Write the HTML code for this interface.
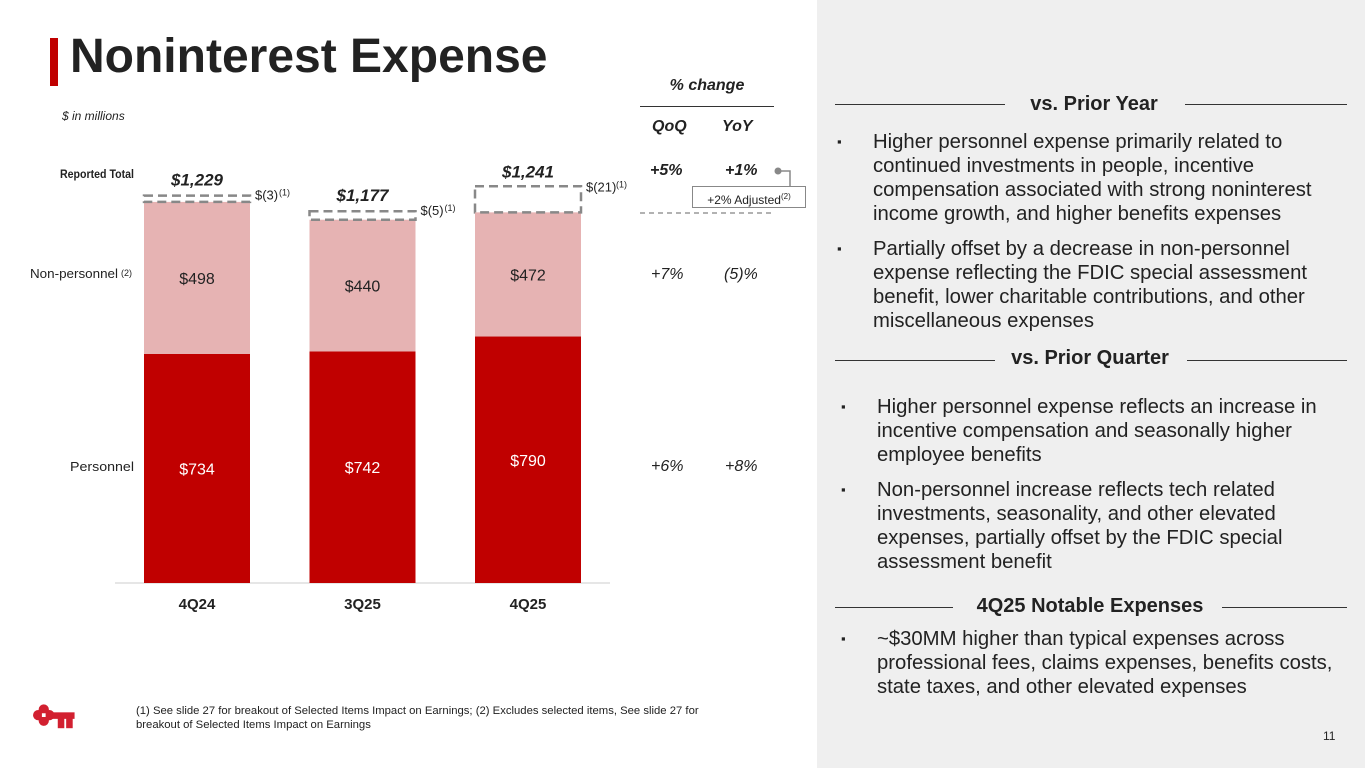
<!DOCTYPE html>
<html><head><meta charset="utf-8"><style>
body{margin:0;width:1365px;height:768px;position:relative;overflow:hidden;background:#fff;font-family:"Liberation Sans",Arial,sans-serif;color:#222}
.a{position:absolute;white-space:nowrap}
.side{position:absolute;left:817px;top:0;width:548px;height:768px;background:#efefef}
.hd{position:absolute;font-weight:bold;font-size:20px;color:#222;text-align:center}
.ln{position:absolute;height:1px;background:#333}
.bul{position:absolute;font-size:20.3px;line-height:24px;color:#222}
.bul span.m{position:absolute;left:-36px;font-size:13px}
</style></head><body>
<div class="side"></div>
<div class="a" style="left:50px;top:38px;width:8px;height:48px;background:#c00000"></div>
<div class="a" style="left:70px;top:29px;font-size:48px;font-weight:bold;color:#222">Noninterest Expense</div>
<div class="a" style="left:62px;top:109px;font-size:12px;font-style:italic">$ in millions</div>

<svg id="chart" class="a" style="left:0;top:0" width="817" height="700"></svg>

<div class="hd" style="left:640px;top:77px;width:134px;font-size:16px;font-style:italic">% change</div>
<div class="ln" style="left:640px;top:106px;width:134px"></div>
<div class="a" style="left:652px;top:118px;font-size:16px;font-weight:bold;font-style:italic">QoQ</div>
<div class="a" style="left:722px;top:118px;font-size:16px;font-weight:bold;font-style:italic">YoY</div>
<div class="a" style="left:650px;top:162px;font-size:16px;font-weight:bold;font-style:italic">+5%</div>
<div class="a" style="left:725px;top:162px;font-size:16px;font-weight:bold;font-style:italic">+1%</div>
<div class="a" style="left:651px;top:266px;font-size:16px;font-style:italic">+7%</div>
<div class="a" style="left:724px;top:266px;font-size:16px;font-style:italic">(5)%</div>
<div class="a" style="left:651px;top:458px;font-size:16px;font-style:italic">+6%</div>
<div class="a" style="left:725px;top:458px;font-size:16px;font-style:italic">+8%</div>
<div class="a" style="left:692px;top:186px;width:112px;height:20px;border:1px solid #888;background:#fff;font-size:12px;line-height:20px;text-align:center">+2% Adjusted<sup style="font-size:8px">(2)</sup></div>

<div class="ln" style="left:835px;top:104px;width:170px"></div>
<div class="hd" style="left:1005px;top:93px;width:178px">vs. Prior Year</div>
<div class="ln" style="left:1185px;top:104px;width:162px"></div>
<div class="bul" style="left:873px;top:130px"><span class="m">▪</span>Higher personnel expense primarily related to<br>continued investments in people, incentive<br>compensation associated with strong noninterest<br>income growth, and higher benefits expenses</div>
<div class="bul" style="left:873px;top:237px"><span class="m">▪</span>Partially offset by a decrease in non-personnel<br>expense reflecting the FDIC special assessment<br>benefit, lower charitable contributions, and other<br>miscellaneous expenses</div>

<div class="ln" style="left:835px;top:360px;width:160px"></div>
<div class="hd" style="left:995px;top:347px;width:190px">vs. Prior Quarter</div>
<div class="ln" style="left:1187px;top:360px;width:160px"></div>
<div class="bul" style="left:877px;top:395px"><span class="m">▪</span>Higher personnel expense reflects an increase in<br>incentive compensation and seasonally higher<br>employee benefits</div>
<div class="bul" style="left:877px;top:478px"><span class="m">▪</span>Non-personnel increase reflects tech related<br>investments, seasonality, and other elevated<br>expenses, partially offset by the FDIC special<br>assessment benefit</div>

<div class="ln" style="left:835px;top:607px;width:118px"></div>
<div class="hd" style="left:955px;top:595px;width:270px">4Q25 Notable Expenses</div>
<div class="ln" style="left:1222px;top:607px;width:125px"></div>
<div class="bul" style="left:877px;top:627px"><span class="m">▪</span>~$30MM higher than typical expenses across<br>professional fees, claims expenses, benefits costs,<br>state taxes, and other elevated expenses</div>
<div class="a" style="left:1323px;top:729px;font-size:12px">11</div>

<svg class="a" style="left:31px;top:703px" width="47" height="28" viewBox="0 0 45 30">
<g fill="#d22030"><circle cx="11" cy="7" r="5.5"/><circle cx="11" cy="19" r="5.5"/><circle cx="5" cy="13" r="5.5"/><circle cx="17" cy="13" r="5.5"/><rect x="14" y="10" width="30" height="7"/><rect x="26" y="15" width="7" height="12"/><rect x="35" y="15" width="7" height="12"/></g><rect x="9" y="11" width="4" height="4" fill="#fff"/></svg>
<div class="a" style="left:136px;top:704px;font-size:11.3px;line-height:14px">(1) See slide 27 for breakout of Selected Items Impact on Earnings; (2) Excludes selected items, See slide 27 for<br>breakout of Selected Items Impact on Earnings</div>

<script>
const categories=["4Q24","3Q25","4Q25"];
const personnel=[734,742,790];
const nonPersonnel=[498,440,472];
const selectedItems=[3,5,21];
const reportedTotals=["$1,229","$1,177","$1,241"];
const NS="http://www.w3.org/2000/svg";
const svg=document.getElementById('chart');
const base=583,scale=0.312,bw=106,x0=144,step=165.5;
const y=v=>base-v*scale;
const xc=i=>x0+i*step;
function mk(t,a,txt){const e=document.createElementNS(NS,t);for(const k in a)e.setAttribute(k,a[k]);if(txt!=null)e.textContent=txt;svg.appendChild(e);return e;}
let e=mk('line',{x1:115,x2:610,y1:base,y2:base,stroke:'#ccc'});


[["Reported Total",178,true,134,74,12],["Non-personnel",278,false,118,88,13],["Personnel",471,false,134,64,13]].forEach((r,k)=>{
 e=mk('text',{x:r[3]-r[4],y:r[1],textLength:r[4],lengthAdjust:'spacingAndGlyphs','font-size':r[5],'font-weight':r[2]?'bold':'normal',fill:'#222'},r[0]);
 
 
});
e=mk('text',{x:121,y:276,'font-size':9,fill:'#222'},'(2)');


categories.forEach((c,i)=>{
 const x=xc(i),pt=y(personnel[i]),st=y(personnel[i]+nonPersonnel[i]);
 const bh=selectedItems[i]*1.1,bb=st+bh;
 e=mk('rect',{x:x,y:pt,width:bw,height:base-pt,fill:'#c00000'});
 
 
 e=mk('rect',{x:x,y:bb,width:bw,height:pt-bb,fill:'#e6b3b3'});
 
 
 e=mk('rect',{x:x,y:st-3,width:bw,height:bh+3,fill:'none',stroke:'#888','stroke-width':2.5,'stroke-dasharray':'9,5'});
 
 
 e=mk('text',{x:x+bw/2,y:(pt+base)/2+6,'text-anchor':'middle','font-size':16,fill:'#fff'},'$'+personnel[i]);
 
 
 e=mk('text',{x:x+bw/2,y:(pt+bb)/2+6,'text-anchor':'middle','font-size':16,fill:'#222'},'$'+nonPersonnel[i]);
 
 
 e=mk('text',{x:x+bw+5,y:st+(i==2?2:1),'font-size':13,fill:'#222'},'$('+selectedItems[i]+')');
 
 
 const w=selectedItems[i]>9?30:24;
 e=mk('text',{x:x+bw+5+w,y:st-4+(i==2?2:1),'font-size':9,fill:'#222'},'(1)');
 
 
 e=mk('text',{x:x+bw/2,y:i==2?y(personnel[i]+nonPersonnel[i])-12:st-13,'text-anchor':'middle','font-size':17,'font-weight':'bold','font-style':'italic',fill:'#222'},reportedTotals[i]);
 
 
 e=mk('text',{x:x+bw/2,y:609,'text-anchor':'middle','font-size':15,'font-weight':'bold',fill:'#222'},c);
 
 
});
e=mk('line',{x1:640,x2:775,y1:213,y2:213,stroke:'#999','stroke-width':1.5,'stroke-dasharray':'5,4'});


e=mk('polyline',{points:'778,171 790,171 790,186',fill:'none',stroke:'#888','stroke-width':1.5});


e=mk('circle',{cx:778,cy:171,r:3.5,fill:'#888'});


</script>
</body></html>
